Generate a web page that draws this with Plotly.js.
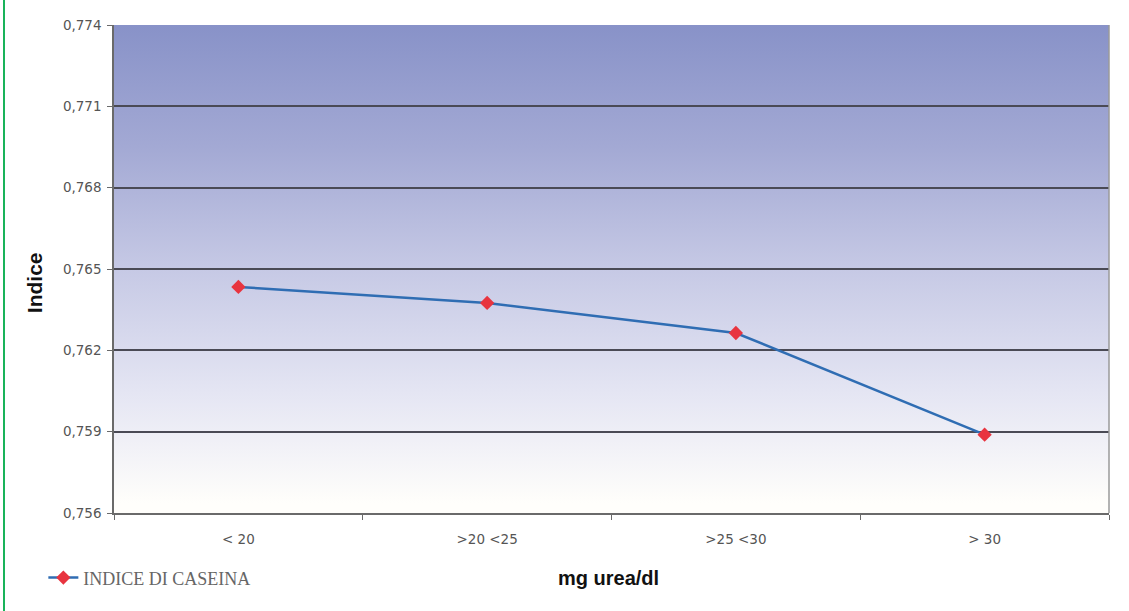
<!DOCTYPE html>
<html>
<head>
<meta charset="utf-8">
<script src="https://cdn.plot.ly/plotly-3.0.1.min.js"></script>
<style>
  html, body { margin: 0; padding: 0; background: #ffffff; }
  #wrap { position: relative; width: 1129px; height: 611px; }
  #frame { position: absolute; left: 3px; top: 0; width: 2px; height: 611px; background: #19b35a; }
  #bg { position: absolute; left: 114px; top: 25px; width: 995px; height: 488px;
        background: linear-gradient(to bottom, #8892c8 0%, #a3a9d4 25%, #c6c9e5 50%, #e4e5f3 75%, #fffefb 98%); }
  #chart { position: absolute; left: 0; top: 0; width: 1129px; height: 611px; }
</style>
</head>
<body>
<div id="wrap">
  <div id="frame"></div>
  <div id="bg"></div>
  <div id="chart"></div>
</div>
<script>
const categories = ["< 20", ">20 <25", ">25 <30", "> 30"];
const indiceCaseina = [0.76434, 0.76375, 0.76264, 0.75889];
const seriesName = "INDICE DI CASEINA";
const yTicks = [0.756, 0.759, 0.762, 0.765, 0.768, 0.771, 0.774];
const xTitle = "mg urea/dl";
const yTitle = "Indice";

const trace = {
  x: categories,
  y: indiceCaseina,
  name: seriesName,
  type: "scatter",
  mode: "lines+markers",
  line: { color: "#2f6db3", width: 2.5 },
  marker: { symbol: "diamond", size: 11, color: "#e8343f" },
  showlegend: true
};

const tickFont = { family: "DejaVu Sans, sans-serif", size: 13.5, color: "#555555" };

const layout = {
  width: 1129,
  height: 611,
  margin: { l: 114, r: 20, t: 25, b: 98 },
  paper_bgcolor: "rgba(0,0,0,0)",
  plot_bgcolor: "rgba(0,0,0,0)",
  separators: ",.",
  font: { family: "Liberation Sans, Arial, sans-serif", size: 11, color: "#333333" },
  showlegend: true,
  legend: {
    orientation: "h",
    x: -0.071, xanchor: "left",
    y: -0.133, yanchor: "middle",
    font: { family: "Liberation Serif, Times New Roman, serif", size: 18, color: "#666666" },
    bgcolor: "rgba(0,0,0,0)"
  },
  xaxis: {
    type: "category",
    range: [-0.5, 3.5],
    showline: true, linecolor: "#6a6a6a", linewidth: 1.5,
    ticks: "outside", ticklen: 5, tickcolor: "#6a6a6a",
    tickson: "boundaries",
    showgrid: false,
    ticklabelstandoff: 13,
    tickfont: tickFont,
    automargin: false
  },
  yaxis: {
    range: [0.756, 0.774],
    tickvals: yTicks,
    tickformat: ".3f",
    showline: true, linecolor: "#6a6a6a", linewidth: 1.5,
    ticks: "outside", ticklen: 5, tickcolor: "#6a6a6a",
    ticklabelstandoff: 3,
    showgrid: true, gridcolor: "#4a4a55", gridwidth: 1.5,
    zeroline: false,
    tickfont: tickFont,
    automargin: false
  },
  annotations: [
    { text: "<b>" + xTitle + "</b>", xref: "paper", yref: "paper",
      x: 0.4965, y: -0.133, xanchor: "center", yanchor: "middle", showarrow: false,
      font: { family: "Liberation Sans, Arial, sans-serif", size: 20, color: "#111111" } },
    { text: "<b>" + yTitle + "</b>", xref: "paper", yref: "paper",
      x: -0.0804, y: 0.471, xanchor: "center", yanchor: "middle", showarrow: false, textangle: -90,
      font: { family: "Liberation Sans, Arial, sans-serif", size: 21, color: "#111111" } }
  ],
  shapes: [
    { type: "line", xref: "paper", yref: "paper", x0: 1, x1: 1, y0: 0, y1: 1,
      line: { color: "#9a9a9a", width: 1.5 } }
  ]
};

Plotly.newPlot("chart", [trace], layout, { displayModeBar: false, responsive: false });
</script>
</body>
</html>
